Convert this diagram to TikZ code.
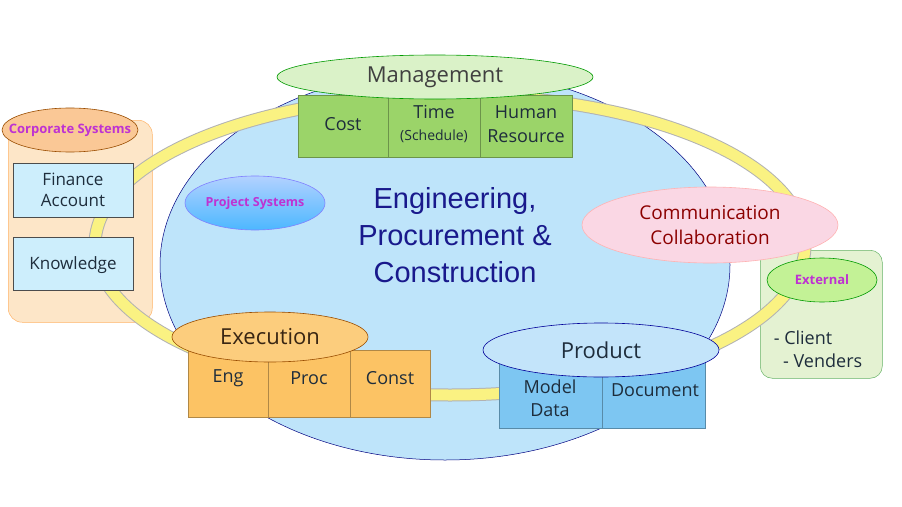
\documentclass[tikz,border=0pt]{standalone}
\usepackage{fontspec}
\setmainfont{Open Sans}
\newfontfamily\arialf{Liberation Sans}
\usetikzlibrary{shapes.geometric}
\definecolor{bigblue}{RGB}{190,228,250}
\definecolor{ringy}{RGB}{250,242,130}
\definecolor{peach}{RGB}{253,230,200}
\definecolor{peachE}{RGB}{250,200,150}
\definecolor{lbox}{RGB}{205,238,252}
\definecolor{mgE}{RGB}{218,242,200}
\definecolor{mgB}{RGB}{155,212,105}
\definecolor{exE}{RGB}{252,205,125}
\definecolor{exB}{RGB}{252,195,100}
\definecolor{prE}{RGB}{195,228,250}
\definecolor{prB}{RGB}{125,198,242}
\definecolor{pink}{RGB}{250,215,228}
\definecolor{extB}{RGB}{228,242,210}
\definecolor{extE}{RGB}{195,242,150}
\definecolor{magt}{RGB}{190,50,210}
\definecolor{navy}{RGB}{25,25,140}
\definecolor{txt}{RGB}{30,45,60}
\tikzset{
 every node/.style={text=txt, align=center},
 ell/.style={ellipse, draw=#1!60!black, line width=0.6pt, inner sep=0pt},
 bx/.style={rectangle, draw=#1!70!black, fill=#1, line width=0.5pt, anchor=north west, inner sep=0pt},
}
\begin{document}
\begin{tikzpicture}[x=1pt,y=-1pt]
\useasboundingbox (0,0) rectangle (902,506);
% big ellipse
\node[ellipse, draw=blue!50!black, fill=bigblue, minimum width=570, minimum height=390, line width=0.5pt] (big) at (445,265) {};
% corporate box
\node[bx=peach, draw=orange!60, rounded corners=14, minimum width=144, minimum height=202] (corp) at (8,120) {};
% External box
\node[bx=extB, draw=green!50!black!60, rounded corners=12, minimum width=122, minimum height=128] (ext) at (760,250) {};
% ring
\draw[gray!60, line width=13pt] (450,245) ellipse [x radius=355, y radius=150];
\draw[ringy, line width=11pt] (450,245) ellipse [x radius=355, y radius=150];
% corporate
\node[ell=orange, fill=peachE, minimum width=136, minimum height=44] (corpE) at (70,130) {};
\node[text=magt, font=\bfseries\fontsize{13}{14}\selectfont] (corpT) at (70,130) {Corporate Systems};
\node[bx=lbox, draw=black!70, minimum width=120, minimum height=54] (fin) at (13,163) {};
\node[font=\fontsize{17}{21}\selectfont] (finT) at (73,190) {Finance\\Account};
\node[bx=lbox, draw=black!70, minimum width=120, minimum height=53] (kn) at (13,237) {};
\node[font=\fontsize{17}{21}\selectfont] (knT) at (73,265) {Knowledge};
% project systems
\node[ell=blue, draw=blue!50, top color=cyan!40!blue!30, bottom color=blue!40!cyan!70, minimum width=140, minimum height=54] (ps) at (255,203) {};
\node[text=magt, font=\bfseries\fontsize{12.5}{14}\selectfont] (psT) at (255,203) {Project Systems};
% central text
\node[text=navy, font=\arialf\fontsize{29}{37}\selectfont] (epc) at (455,235) {Engineering,\\Procurement \&\\Construction};
% management
\node[bx=mgB, minimum width=90, minimum height=62] (cost) at (298,95) {};
\node[bx=mgB, minimum width=92, minimum height=62] (time) at (388,95) {};
\node[bx=mgB, minimum width=92, minimum height=62] (hr) at (480,95) {};
\node[ell=green, fill=mgE, minimum width=316, minimum height=44] (mgE) at (435,77) {};
\node[font=\fontsize{22}{26}\selectfont, text=black!75] (mgT) at (435,77) {Management};
\node[font=\fontsize{18}{22}\selectfont] (costT) at (343,124) {Cost};
\node[font=\fontsize{18}{22}\selectfont] (timeT) at (434,112) {Time};
\node[font=\fontsize{14}{16}\selectfont] (schT) at (434,136) {(Schedule)};
\node[font=\fontsize{18}{24}\selectfont] (hrT) at (526,124) {Human\\Resource};
% communication
\node[ell=red, draw=red!30, fill=pink, minimum width=256, minimum height=76] (com) at (710,225) {};
\node[text=red!55!black, font=\fontsize{19}{25}\selectfont] (comT) at (710,225) {Communication\\Collaboration};
% external
\node[ell=green, fill=extE, minimum width=110, minimum height=44] (extE) at (822,280) {};
\node[text=magt, font=\bfseries\fontsize{13}{14}\selectfont] (extT) at (822,280) {External};
\node[font=\fontsize{18}{23}\selectfont, align=left] (cv) at (818,349) {- Client\\\ \ - Venders};
% execution
\node[bx=exB, minimum width=80, minimum height=67] (eng) at (188,350) {};
\node[bx=exB, minimum width=82, minimum height=67] (proc) at (268,350) {};
\node[bx=exB, minimum width=80, minimum height=67] (cons) at (350,350) {};
\node[ell=orange, fill=exE, minimum width=196, minimum height=50] (exE) at (270,337) {};
\node[font=\fontsize{22}{26}\selectfont, text=black!70!brown] (exT) at (270,337) {Execution};
\node[font=\fontsize{18}{22}\selectfont] (engT) at (228,378) {Eng};
\node[font=\fontsize{18}{22}\selectfont] (procT) at (309,378) {Proc};
\node[font=\fontsize{18}{22}\selectfont] (consT) at (390,378) {Const};
% product
\node[bx=prB, minimum width=103, minimum height=68] (md) at (499,360) {};
\node[bx=prB, minimum width=103, minimum height=68] (doc) at (602,360) {};
\node[ell=blue, fill=prE, minimum width=236, minimum height=54] (prE) at (601,350) {};
\node[font=\fontsize{22}{26}\selectfont] (prT) at (601,350) {Product};
\node[font=\fontsize{18}{23}\selectfont] (mdT) at (550,398) {Model\\Data};
\node[font=\fontsize{18}{22}\selectfont] (docT) at (655,390) {Document};
\end{tikzpicture}
\end{document}
